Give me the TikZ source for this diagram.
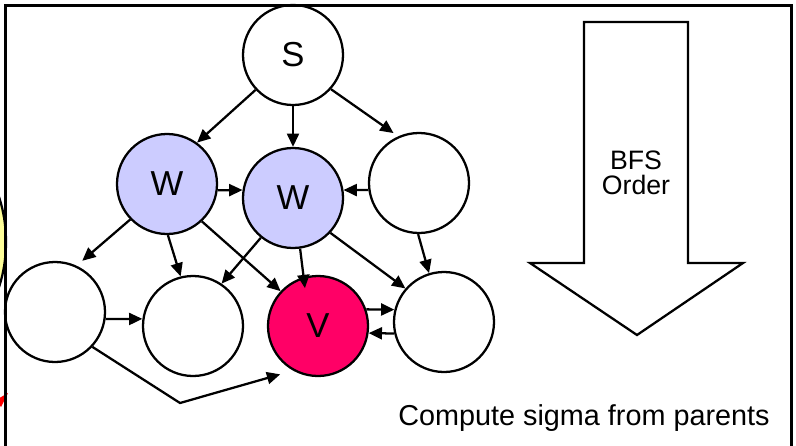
\documentclass[tikz,border=0pt]{standalone}
\usepackage{fontspec}
\setmainfont{Liberation Sans}
\usetikzlibrary{arrows.meta,calc}
\definecolor{wfill}{HTML}{CCCCFF}
\definecolor{vfill}{HTML}{FF0066}
\definecolor{callout}{HTML}{FFFF99}
\begin{document}
\begin{tikzpicture}[x=0.75pt,y=-0.75pt,
  vertex/.style={circle,draw,line width=1.7pt,minimum size=75pt,inner sep=0pt,
    fill=white,font=\fontsize{26}{30}\selectfont},
  edge/.style={line width=1.7pt,-{Triangle[length=10pt,width=9pt]}},
  bigarrow/.style={draw,line width=1.7pt,fill=white,line join=miter},
  label/.style={font=\fontsize{20}{20}\selectfont,inner sep=0pt},
]
\useasboundingbox (0,0) rectangle (796,446);

% callout and pointer sticking in from the left border
\draw[line width=1.7pt,fill=callout] (-54,242) ellipse [x radius=60,y radius=96];
\fill[red] (-4,400) -- (8,393) -- (1,407) -- cycle;

% graph vertices
\node[vertex] (S) at (293,55) {S};
\node[vertex,fill=wfill] (W1) at (167,184) {W};
\node[vertex,fill=wfill] (W2) at (293,198) {W};
\node[vertex] (T) at (419,183) {};
\node[vertex] (L1) at (55,312) {};
\node[vertex] (L2) at (193,326) {};
\node[vertex,fill=vfill] (V) at (318,326) {V};
\node[vertex] (R) at (444,322) {};

% edges
\draw[edge] (S.223) -- (W1.54);
\draw[edge] (S.south) -- (W2.north);
\draw[edge] (S.-42) -- ($(T)+(117:42pt)$);
\draw[edge] (W1.-7) -- (W2.171);
\draw[edge] (T.188) -- (W2.9);
\draw[edge] (W1.224) -- ($(L1)+(62:43.5pt)$);
\draw[edge] (W1.-89) -- (L2.104);
\draw[edge] (W1.-47) -- (V.137);
\draw[edge] (W2.231) -- (L2.56);
\draw[edge] (W2.-82) -- ($(V)+(109:30pt)$);
\draw[edge] (W2.-43) -- (R.139);
\draw[edge] (T.-91) -- (R.107);
\draw[edge] (L1.-8) -- (L2.172);
\coordinate (kink) at (180,403);
\draw[edge] (L1.-43) -- (kink) -- ($(V)+(232:46pt)$);
\draw[edge] (V.19) -- (R.166);
\draw[edge] (R.193) -- (V.-8);

% BFS order arrow
\draw[bigarrow] (584,22) -- (688,22) -- (688,263) -- (743,263) -- (637,335)
  -- (530,263) -- (584,263) -- cycle;
\node[label] (bfs) at (636,160) {BFS};
\node[label,anchor=north] (order) at ([yshift=-4pt]bfs.south) {Order};

\node[anchor=base,font=\fontsize{21.6}{26}\selectfont] (caption) at (584,425)
  {Compute sigma from parents};

% outer frame
\draw[line width=1.9pt] (5.5,5.5) rectangle (791.5,470);
\end{tikzpicture}
\end{document}
